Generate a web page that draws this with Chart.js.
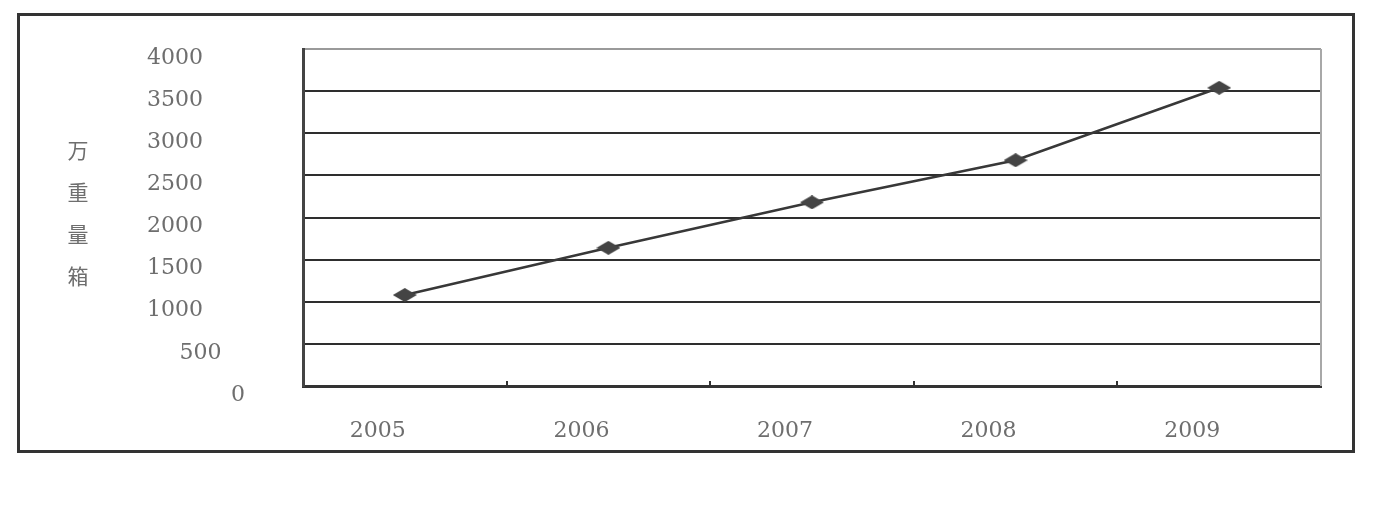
<!DOCTYPE html>
<html>
<head>
<meta charset="utf-8">
<script src="https://cdn.jsdelivr.net/npm/chart.js@4/dist/chart.umd.min.js"></script>
<style>
  html, body { margin: 0; padding: 0; background: #fff; }
  #wrap { position: relative; width: 1377px; height: 510px; }
  #frame { position: absolute; left: 17px; top: 13px; width: 1332px; height: 434px; border: 3px solid #333; }
  canvas { position: absolute; left: 0; top: 0; }
</style>
</head>
<body>
<div id="wrap">
  <div id="frame"></div>
  <canvas id="chart" width="1377" height="510"></canvas>
</div>
<script>
// data
var years = ['2005', '2006', '2007', '2008', '2009'];
var volume = [1080, 1640, 2180, 2680, 3540];   // 万重量箱
var yTicks = [0, 500, 1000, 1500, 2000, 2500, 3000, 3500, 4000];
var axisTitle = ['万', '重', '量', '箱'];

var labelFont = { family: 'DejaVu Serif', size: 22 };
var labelColor = '#6e6e6e';

// flattened diamond marker like the original
var diamond = document.createElement('canvas');
diamond.width = 24;
diamond.height = 14;
(function() {
    var d = diamond.getContext('2d');
    d.fillStyle = '#444';
    d.beginPath();
    d.moveTo(0, 7);
    d.lineTo(12, 0);
    d.lineTo(24, 7);
    d.lineTo(12, 14);
    d.closePath();
    d.fill();
})();

// the y labels in the source are not lined up; pad the short ones
function padLabel(v) {
    if (v === 500) return '\u2007\u2007\u2009' + v;
    if (v === 0) return '\u2007\u2007\u2007\u2007\u2007\u2007' + v;
    return String(v);
}

var framePlugin = {
    id: 'framePlugin',
    beforeDatasetsDraw: function(chart) {
        var ctx = chart.ctx, a = chart.chartArea, x = chart.scales.x;
        ctx.save();
        // right edge of plot
        ctx.strokeStyle = '#a8a8a8';
        ctx.lineWidth = 2;
        ctx.beginPath();
        ctx.moveTo(a.right, a.top);
        ctx.lineTo(a.right, a.bottom);
        ctx.stroke();
        // small inward ticks between categories
        ctx.strokeStyle = '#333';
        ctx.lineWidth = 2;
        for (var i = 0; i < years.length - 1; i++) {
            var px = Math.round((x.getPixelForValue(i) + x.getPixelForValue(i + 1)) / 2);
            ctx.beginPath();
            ctx.moveTo(px, a.bottom - 5);
            ctx.lineTo(px, a.bottom);
            ctx.stroke();
        }
        ctx.restore();
    },
    afterDraw: function(chart) {
        // stacked vertical axis title
        var ctx = chart.ctx, a = chart.chartArea;
        var mid = (a.top + a.bottom) / 2 - 4;
        ctx.save();
        ctx.font = '21px "Noto Sans CJK SC"';
        ctx.fillStyle = '#6e6e6e';
        ctx.textAlign = 'center';
        ctx.textBaseline = 'middle';
        for (var i = 0; i < axisTitle.length; i++) {
            ctx.fillText(axisTitle[i], a.left - 225, mid + (i - (axisTitle.length - 1) / 2) * 42);
        }
        ctx.restore();
    }
};

new Chart(document.getElementById('chart'), {
    type: 'line',
    data: {
        labels: years,
        datasets: [{
            data: volume,
            borderColor: '#383838',
            borderWidth: 2.5,
            pointStyle: diamond,
            tension: 0
        }]
    },
    options: {
        responsive: false,
        animation: false,
        devicePixelRatio: 1,
        layout: { padding: { left: 147, top: 49, right: 56, bottom: 0 } },
        plugins: { legend: { display: false }, tooltip: { enabled: false } },
        scales: {
            x: {
                offset: true,
                grid: { display: false, drawTicks: false },
                border: { display: true, color: '#333', width: 3 },
                ticks: { font: labelFont, color: labelColor, padding: 32, labelOffset: -27 },
                afterFit: function(s) { s.height = 124; }
            },
            y: {
                min: 0,
                max: 4000,
                afterBuildTicks: function(s) { s.ticks = yTicks.map(function(v) { return { value: v }; }); },
                grid: {
                    drawTicks: false,
                    lineWidth: 2,
                    color: function(c) { return c.tick && c.tick.value === 4000 ? '#9a9a9a' : '#2e2e2e'; }
                },
                border: { display: true, color: '#444', width: 3 },
                ticks: {
                    font: labelFont,
                    color: labelColor,
                    crossAlign: 'far',
                    labelOffset: 9,
                    callback: function(v) { return padLabel(v); }
                },
                afterFit: function(s) { s.width = 156; }
            }
        }
    },
    plugins: [framePlugin]
});
</script>
</body>
</html>
